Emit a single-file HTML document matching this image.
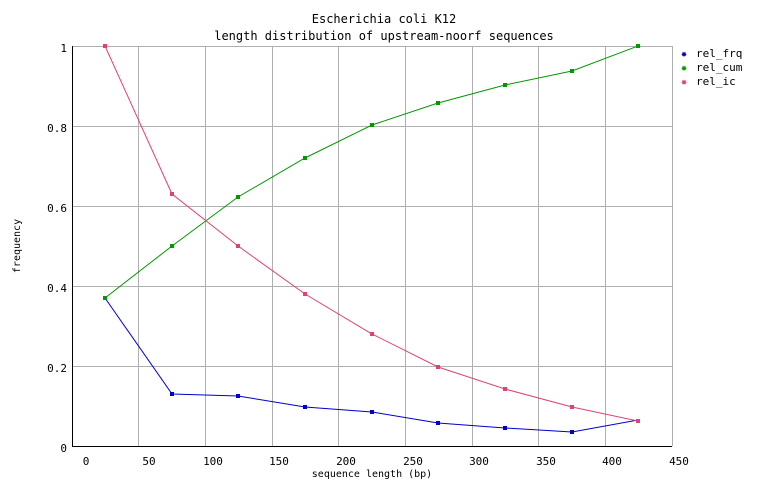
<!DOCTYPE html>
<html><head><style>
body{margin:0;background:#fff;}
svg{display:block;font-family:"DejaVu Sans Mono","Liberation Mono",monospace;font-size:11px;}
</style></head><body>
<svg width="768" height="498" viewBox="0 0 768 498" xmlns="http://www.w3.org/2000/svg">
<rect width="768" height="498" fill="#fff"/>
<text x="384" y="23" text-anchor="middle" font-size="12">Escherichia coli K12</text>
<text x="384" y="40" text-anchor="middle" font-size="12">length distribution of upstream-noorf sequences</text>
<g stroke="#b0b0b0" stroke-width="1">
<line x1="138.5" y1="46" x2="138.5" y2="446"/>
<line x1="205.5" y1="46" x2="205.5" y2="446"/>
<line x1="272.5" y1="46" x2="272.5" y2="446"/>
<line x1="338.5" y1="46" x2="338.5" y2="446"/>
<line x1="405.5" y1="46" x2="405.5" y2="446"/>
<line x1="472.5" y1="46" x2="472.5" y2="446"/>
<line x1="538.5" y1="46" x2="538.5" y2="446"/>
<line x1="605.5" y1="46" x2="605.5" y2="446"/>
<line x1="672.5" y1="46" x2="672.5" y2="446"/>
<line x1="72" y1="46.5" x2="672" y2="46.5"/>
<line x1="72" y1="126.5" x2="672" y2="126.5"/>
<line x1="72" y1="206.5" x2="672" y2="206.5"/>
<line x1="72" y1="286.5" x2="672" y2="286.5"/>
<line x1="72" y1="366.5" x2="672" y2="366.5"/>
</g>
<line x1="72.5" y1="46" x2="72.5" y2="447" stroke="#000"/>
<line x1="72" y1="446.5" x2="672" y2="446.5" stroke="#000"/>
<g text-anchor="end">
<text x="67" y="52">1</text><text x="67" y="132">0.8</text><text x="67" y="212">0.6</text>
<text x="67" y="292">0.4</text><text x="67" y="372">0.2</text><text x="67" y="452">0</text>
</g>
<g text-anchor="middle">
<text x="86" y="465">0</text><text x="149" y="465">50</text><text x="213" y="465">100</text>
<text x="279" y="465">150</text><text x="346" y="465">200</text><text x="413" y="465">250</text>
<text x="479" y="465">300</text><text x="546" y="465">350</text><text x="612" y="465">400</text>
<text x="679" y="465">450</text>
</g>
<text x="372" y="477" text-anchor="middle" font-size="10">sequence length (bp)</text>
<text transform="translate(20,246) rotate(-90)" text-anchor="middle" font-size="10">frequency</text>
<g fill="none" stroke-width="1">
<polyline stroke="#0000cc" points="105,298 172,394 238,396 305,407 372,412 438,423 505,428 572,432 638,420"/>
<polyline stroke="#009900" points="105,298 172,246 238,197 305,158 372,125 438,103 505,85 572,71 638,46"/>
<polyline stroke="#e0407a" points="105,46 172,194 238,246 305,294 372,334 438,367 505,389 572,407 638,421"/>
</g>
<g fill="#0000cc"><rect x="103" y="296" width="4" height="4"/><rect x="170" y="392" width="4" height="4"/><rect x="236" y="394" width="4" height="4"/><rect x="303" y="405" width="4" height="4"/><rect x="370" y="410" width="4" height="4"/><rect x="436" y="421" width="4" height="4"/><rect x="503" y="426" width="4" height="4"/><rect x="570" y="430" width="4" height="4"/></g>
<g fill="#009900"><rect x="103" y="296" width="4" height="4"/><rect x="170" y="244" width="4" height="4"/><rect x="236" y="195" width="4" height="4"/><rect x="303" y="156" width="4" height="4"/><rect x="370" y="123" width="4" height="4"/><rect x="436" y="101" width="4" height="4"/><rect x="503" y="83" width="4" height="4"/><rect x="570" y="69" width="4" height="4"/><rect x="636" y="44" width="4" height="4"/></g>
<g fill="#e0407a"><rect x="103" y="44" width="4" height="4"/><rect x="170" y="192" width="4" height="4"/><rect x="236" y="244" width="4" height="4"/><rect x="303" y="292" width="4" height="4"/><rect x="370" y="332" width="4" height="4"/><rect x="436" y="365" width="4" height="4"/><rect x="503" y="387" width="4" height="4"/><rect x="570" y="405" width="4" height="4"/><rect x="636" y="419" width="4" height="4"/></g>
<text x="681" y="57" fill="#0000cc" font-size="10">✸</text>
<text x="681" y="71" fill="#009900" font-size="10">✸</text>
<text x="681" y="85" fill="#e0407a" font-size="10">✸</text>
<text x="696" y="57">rel_frq</text>
<text x="696" y="71">rel_cum</text>
<text x="696" y="85">rel_ic</text>
</svg>
</body></html>
